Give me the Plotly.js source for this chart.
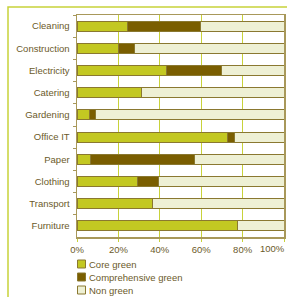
<!DOCTYPE html>
<html>
<head>
<meta charset="utf-8">
<script src="https://cdn.plot.ly/plotly-3.0.1.min.js"></script>
<style>html,body{margin:0;padding:0;background:#fff;}#chart{width:287px;height:297px;}</style>
</head>
<body>
<div id="chart"></div>
<script>
var categories = ["Cleaning","Construction","Electricity","Catering","Gardening","Office IT","Paper","Clothing","Transport","Furniture"];
var coreGreen = [24.5, 20, 43, 31.3, 5.8, 72.5, 6.6, 29, 36.3, 77.7];
var comprehensiveGreen = [35, 8, 27, 0, 2.9, 3.7, 50, 10.3, 0, 0];
var nonGreen = categories.map(function(c, i){ return +(100 - coreGreen[i] - comprehensiveGreen[i]).toFixed(1); });
var seriesNames = ["Core green","Comprehensive green","Non green"];
var seriesColors = ["#c3c822","#7a5e00","#eef0d4"];
var xTicks = [0,20,40,60,80,100];
var xTickLabels = ["0%","20%","40%","60%","80%","100%"];

var W = 287, H = 297, L = 77, R = 3, T = 15, B = 60;
var pw = W - L - R, ph = H - T - B;
function px(x){ return (x - L) / pw; }
function py(y){ return (H - B - y) / ph; }

var font = {family: "Liberation Sans, Arial, sans-serif", size: 9.5, color: "#6b5a2a"};
var outline = "#8a7830";
var seriesVals = [coreGreen, comprehensiveGreen, nonGreen];
var traces = seriesVals.map(function(v, i){
  return {type: "bar", orientation: "h", y: categories, x: v, name: seriesNames[i],
    marker: {color: seriesColors[i], line: {color: outline, width: 1}},
    hoverinfo: "x+name"};
});

var shapes = [
  {type: "path", xref: "paper", yref: "paper",
   path: "M " + px(8) + " " + py(300) + " L " + px(8) + " " + py(7) + " L " + px(290) + " " + py(7),
   line: {color: "#c8d23a", width: 1.5}}
];
var annotations = [];
var legendY = [264, 277, 290];
seriesNames.forEach(function(n, i){
  shapes.push({type: "rect", xref: "paper", yref: "paper",
    x0: px(77.5), x1: px(85.5), y0: py(legendY[i] - 4), y1: py(legendY[i] + 4),
    fillcolor: seriesColors[i], line: {color: outline, width: 1}});
  annotations.push({xref: "paper", yref: "paper", x: px(87), y: py(legendY[i]),
    xanchor: "left", yanchor: "middle", showarrow: false, text: n, font: font});
});
// last tick label is pulled inside the picture, as in the reference
var last = xTicks.length - 1;
annotations.push({xref: "x", yref: "paper", x: xTicks[last], y: py(249), xanchor: "right", xshift: 3,
  yanchor: "middle", showarrow: false, text: xTickLabels[last], font: font});
var shownLabels = xTickLabels.map(function(t, i){ return i === last ? "" : t; });

var layout = {
  width: W, height: H,
  margin: {l: L, r: R, t: T, b: B, pad: 0},
  barmode: "stack", bargap: 0.55,
  paper_bgcolor: "#fff", plot_bgcolor: "#fff",
  showlegend: false,
  font: font,
  xaxis: {range: [0, 100], tickvals: xTicks, ticktext: shownLabels,
    showgrid: true, gridcolor: "#c8d23a", gridwidth: 1,
    ticks: "outside", ticklen: 3, tickcolor: "#c8d23a",
    showline: true, mirror: true, linecolor: "#a8985a", linewidth: 1.5,
    zeroline: false, tickfont: font, fixedrange: true},
  yaxis: {autorange: "reversed", type: "category",
    ticks: "outside", tickson: "boundaries", ticklen: 3, tickcolor: "#a8985a",
    showline: true, mirror: true, linecolor: "#a8985a", linewidth: 1.5,
    showgrid: false, tickfont: font, ticklabelstandoff: 4, fixedrange: true},
  shapes: shapes,
  annotations: annotations
};
Plotly.newPlot("chart", traces, layout, {displayModeBar: false, staticPlot: true});
</script>
</body>
</html>
